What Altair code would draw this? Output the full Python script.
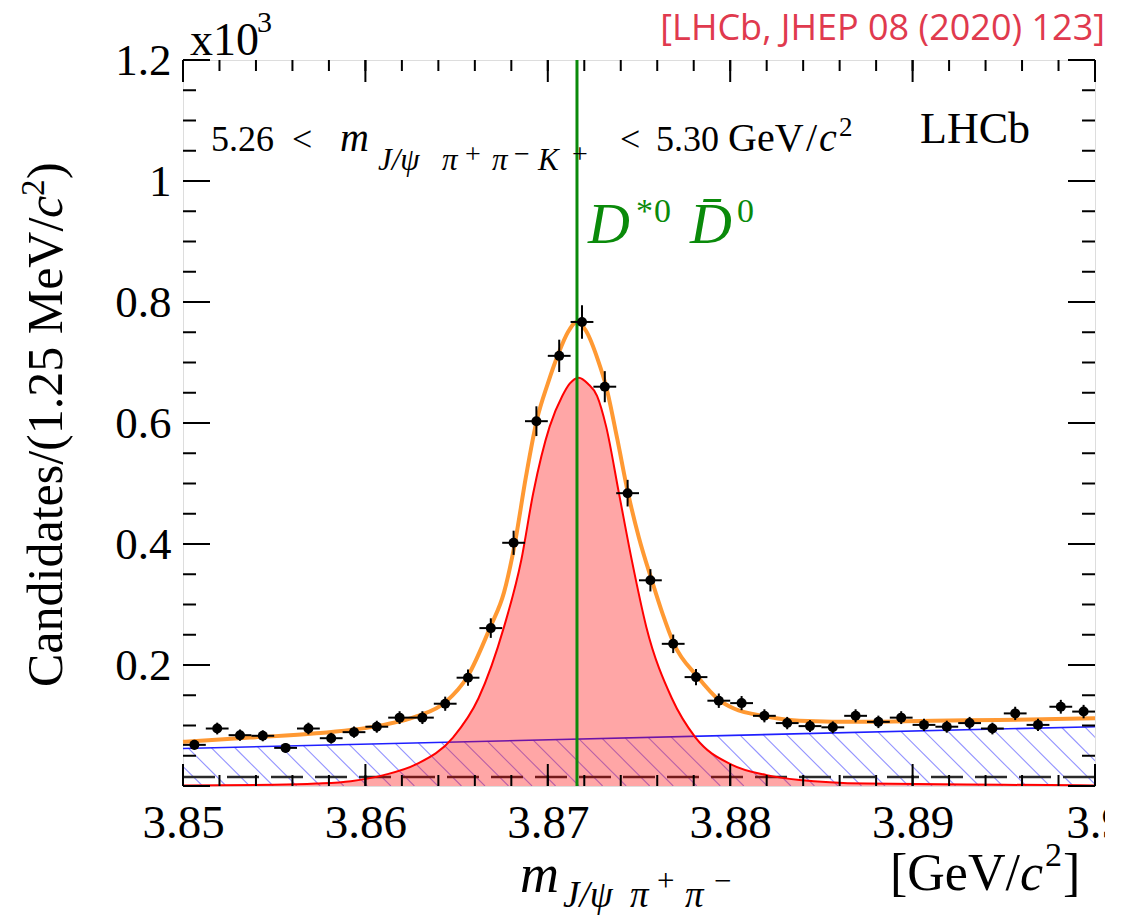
import altair as alt
import numpy as np
import pandas as pd

# ---------------- data ----------------
bin_start = 3.85
bin_width = 0.00125
counts = [0.068, 0.095, 0.084, 0.083, 0.063, 0.095, 0.079, 0.089, 0.098, 0.113,
          0.113, 0.136, 0.179, 0.261, 0.402, 0.603, 0.711, 0.767, 0.660, 0.484,
          0.340, 0.235, 0.180, 0.141, 0.137, 0.116, 0.104, 0.099, 0.097, 0.116,
          0.106, 0.113, 0.101, 0.098, 0.104, 0.095, 0.120, 0.101, 0.131, 0.123]
errors = [0.0082, 0.0097, 0.0092, 0.0091, 0.0079, 0.0097, 0.0089, 0.0094, 0.0099, 0.0106,
          0.0106, 0.0117, 0.0134, 0.0162, 0.0200, 0.0246, 0.0267, 0.0277, 0.0257, 0.0220,
          0.0184, 0.0153, 0.0134, 0.0119, 0.0117, 0.0108, 0.0102, 0.0099, 0.0098, 0.0108,
          0.0103, 0.0106, 0.0100, 0.0099, 0.0102, 0.0097, 0.0110, 0.0100, 0.0114, 0.0111]

fit_x = [3.8500, 3.8537, 3.8573, 3.8610, 3.8628, 3.8644, 3.8656, 3.86685, 3.8676, 3.8682,
         3.8688, 3.8694, 3.8700, 3.8706, 3.8711, 3.8716, 3.8721, 3.87275, 3.8732, 3.8738,
         3.8744, 3.8750, 3.8757, 3.8763, 3.8769, 3.8782, 3.8794, 3.8802, 3.8820, 3.8838,
         3.8874, 3.8911, 3.8947, 3.9000]
fit_y = [0.073, 0.080, 0.087, 0.101, 0.115, 0.139, 0.181, 0.263, 0.320, 0.402,
         0.511, 0.605, 0.665, 0.716, 0.750, 0.767, 0.752, 0.704, 0.660, 0.575,
         0.484, 0.410, 0.340, 0.284, 0.236, 0.181, 0.142, 0.128, 0.115, 0.108,
         0.106, 0.108, 0.109, 0.112]

sig_x = [3.8500, 3.8550, 3.8573, 3.8592, 3.8610, 3.8628, 3.8648, 3.8662, 3.8676, 3.86855,
         3.8692, 3.8701, 3.8708, 3.8712, 3.8717, 3.8722, 3.8727, 3.8732, 3.8739, 3.8746,
         3.8754, 3.8768, 3.8781, 3.8801, 3.8820, 3.8838, 3.8875, 3.8950, 3.9000]
sig_y = [0.001, 0.002, 0.004, 0.008, 0.018, 0.036, 0.080, 0.145, 0.263, 0.374,
         0.484, 0.594, 0.645, 0.665, 0.675, 0.665, 0.645, 0.594, 0.484, 0.374,
         0.263, 0.145, 0.080, 0.035, 0.018, 0.010, 0.004, 0.002, 0.001]

bkg_x = [3.85, 3.90]
bkg_y = [0.062, 0.098]
flat_x = [3.85, 3.90]
flat_y = [0.015, 0.015]
threshold_x = [3.8716]

x_major = [3.85, 3.86, 3.87, 3.88, 3.89, 3.90]
y_major = [0.0, 0.2, 0.4, 0.6, 0.8, 1.0, 1.2]
y_labels = [0.2, 0.4, 0.6, 0.8, 1.0, 1.2]

# ---------------- layout ----------------
W, H = 912, 726
X0, Y0 = 183, 60
SERIF = "Liberation Serif"
GREEN = "#0a8a0a"

x_minor = [round(3.85 + 0.002 * i, 3) for i in range(26)]
y_minor = [round(0.05 * i, 2) for i in range(25)]

xs = alt.Scale(domain=[3.85, 3.90], nice=False, zero=False)
ys = alt.Scale(domain=[0, 1.2], nice=False, zero=False)
xaxis = alt.Axis(values=x_major, ticks=False, domain=False, grid=False, title=None,
                 labelExpr="datum.value > 3.895 ? '3.9' : format(datum.value, '.2f')",
                 labelFont=SERIF, labelFontSize=47, labelColor="black",
                 labelPadding=14, labelFlush=False, labelOverlap=False)
yaxis = alt.Axis(values=y_labels, ticks=False, domain=False, grid=False, title=None,
                 labelExpr="datum.value == 1 ? '1' : format(datum.value, '.1f')",
                 labelFont=SERIF, labelFontSize=45, labelColor="black",
                 labelPadding=12, labelFlush=False, labelOverlap=False)


def X(f):
    return alt.X(f, type="quantitative", scale=xs, axis=xaxis)


def Y(f):
    return alt.Y(f, type="quantitative", scale=ys, axis=yaxis)


centers = [round(bin_start + bin_width * (i + 0.5), 6) for i in range(len(counts))]
df = pd.DataFrame({"m": centers, "n": counts, "e": errors})
df["lo"] = df["n"] - df["e"]
df["hi"] = df["n"] + df["e"]
df["xlo"] = df["m"] - bin_width / 2
df["xhi"] = df["m"] + bin_width / 2

# hatch pattern under the background line (style)
px_x = W / 0.05
px_y = H / 1.2
hx0 = np.arange(3.85 - 0.006, 3.90, 0.00126)
hy0 = bkg_y[0] + (bkg_y[1] - bkg_y[0]) * (hx0 - 3.85) / 0.05
hx1 = hx0 + hy0 * px_y / px_x
hatch = pd.DataFrame({"x": hx0, "y": hy0, "x2": hx1, "y2": np.zeros_like(hx0)})

layers = []
layers.append(alt.Chart(hatch).mark_rule(color="#6f6fff", strokeWidth=1.1, opacity=0.75, clip=True)
              .encode(x=X("x"), y=Y("y"), x2="x2", y2="y2"))
layers.append(alt.Chart(pd.DataFrame({"x": bkg_x, "y": bkg_y})).mark_line(color="#1f1fff", strokeWidth=1.6)
              .encode(x=X("x"), y=Y("y")))
layers.append(alt.Chart(pd.DataFrame({"x": flat_x, "y": flat_y}))
              .mark_line(color="#2a2a2a", strokeWidth=2.5, strokeDash=[32, 12])
              .encode(x=X("x"), y=Y("y")))
sig_df = pd.DataFrame({"x": sig_x, "y": sig_y})
layers.append(alt.Chart(sig_df).mark_area(color="#ff0000", opacity=0.35, interpolate="monotone")
              .encode(x=X("x"), y=Y("y")))
layers.append(alt.Chart(sig_df).mark_line(color="#ff0000", strokeWidth=2, interpolate="monotone")
              .encode(x=X("x"), y=Y("y")))
layers.append(alt.Chart(pd.DataFrame({"x": fit_x, "y": fit_y}))
              .mark_line(color="#ff9933", strokeWidth=4, interpolate="monotone")
              .encode(x=X("x"), y=Y("y")))
layers.append(alt.Chart(pd.DataFrame({"x": threshold_x})).mark_rule(color=GREEN, strokeWidth=3)
              .encode(x=X("x")))
base = alt.Chart(df)
layers.append(base.mark_rule(color="black", strokeWidth=2).encode(x=X("xlo"), x2="xhi", y=Y("n")))
layers.append(base.mark_rule(color="black", strokeWidth=2).encode(x=X("m"), y=Y("lo"), y2="hi"))
layers.append(base.mark_circle(size=100, color="black", opacity=1).encode(x=X("m"), y=Y("n")))


# inward ticks on all four sides
def yticks(vals, length):
    d = pd.DataFrame({"v": vals})
    left = alt.Chart(d).mark_rule(color="black", strokeWidth=2).encode(
        y=Y("v"), x=alt.value(0), x2=alt.value(length))
    right = alt.Chart(d).mark_rule(color="black", strokeWidth=2).encode(
        y=Y("v"), x=alt.value(W - length), x2=alt.value(W))
    return [left, right]


def xticks(vals, length):
    d = pd.DataFrame({"v": vals})
    top = alt.Chart(d).mark_rule(color="black", strokeWidth=2).encode(
        x=X("v"), y=alt.value(0), y2=alt.value(length))
    bot = alt.Chart(d).mark_rule(color="black", strokeWidth=2).encode(
        x=X("v"), y=alt.value(H - length), y2=alt.value(H))
    return [top, bot]


layers += yticks(y_major, 27) + yticks(y_minor, 13) + xticks(x_major, 22) + xticks(x_minor, 11)

# text annotations: (text, page x, page baseline y, size, italic, color, align, angle, font)
K = "black"
ann = [
    ("x10", 190, 55, 46, False, K, "left", 0, SERIF),
    ("3", 257, 32, 30, False, K, "left", 0, SERIF),
    ("5.26", 211, 151, 36, False, K, "left", 0, SERIF),
    ("<", 292, 151, 36, False, K, "left", 0, SERIF),
    ("m", 340, 151, 40, True, K, "left", 0, SERIF),
    ("J/ψ", 378, 170, 31, True, K, "left", 0, SERIF),
    ("π", 442, 170, 31, True, K, "left", 0, SERIF),
    ("+", 465, 163, 28, False, K, "left", 0, SERIF),
    ("π", 492, 170, 31, True, K, "left", 0, SERIF),
    ("−", 514, 163, 28, False, K, "left", 0, SERIF),
    ("K", 538, 170, 31, True, K, "left", 0, SERIF),
    ("+", 572, 163, 28, False, K, "left", 0, SERIF),
    ("<", 620, 151, 36, False, K, "left", 0, SERIF),
    ("5.30", 656, 151, 36, False, K, "left", 0, SERIF),
    ("GeV", 728, 151, 40, False, K, "left", 0, SERIF),
    ("/", 806, 151, 40, False, K, "left", 0, SERIF),
    ("c", 819, 151, 40, True, K, "left", 0, SERIF),
    ("2", 839, 136, 27, False, K, "left", 0, SERIF),
    ("LHCb", 920, 143, 44, False, K, "left", 0, SERIF),
    ("D", 588, 243, 58, True, GREEN, "left", 0, SERIF),
    ("*", 636, 222, 34, False, GREEN, "left", 0, SERIF),
    ("0", 654, 222, 34, False, GREEN, "left", 0, SERIF),
    ("D\u0304", 690, 243, 58, True, GREEN, "left", 0, SERIF),
    ("0", 737, 222, 34, False, GREEN, "left", 0, SERIF),
    ("m", 520, 892, 54, True, K, "left", 0, SERIF),
    ("J/ψ", 563, 907, 37, True, K, "left", 0, SERIF),
    ("π", 630, 907, 37, True, K, "left", 0, SERIF),
    ("+", 657, 891, 31, False, K, "left", 0, SERIF),
    ("π", 685, 907, 37, True, K, "left", 0, SERIF),
    ("−", 714, 891, 31, False, K, "left", 0, SERIF),
    ("[GeV/", 890, 890, 52, False, K, "left", 0, SERIF),
    ("c", 1020, 890, 52, True, K, "left", 0, SERIF),
    ("2", 1045, 866, 34, False, K, "left", 0, SERIF),
    ("]", 1063, 890, 52, False, K, "left", 0, SERIF),
    ("Candidates/(1.25 MeV/", 62, 687, 50, False, K, "left", 270, SERIF),
    ("c", 62, 218, 50, True, K, "left", 270, SERIF),
    ("2", 44, 196, 33, False, K, "left", 270, SERIF),
    (")", 62, 179, 50, False, K, "left", 270, SERIF),
    ("[LHCb, JHEP 08 (2020) 123]", 1105, 40, 36, False, "#e03a4e", "right", 0, "Open Sans"),
]

one = pd.DataFrame({"a": [0]})
for (t, px, py, sz, it, col, al, ang, fnt) in ann:
    layers.append(alt.Chart(one).mark_text(
        text=t, font=fnt, fontSize=sz, fontStyle="italic" if it else "normal",
        color=col, align=al, baseline="alphabetic", angle=ang
    ).encode(x=alt.value(px - X0), y=alt.value(py - Y0)))

chart = alt.layer(*layers).properties(
    width=W, height=H,
    padding={"left": X0, "top": Y0, "right": 1105 - X0 - W, "bottom": 919 - Y0 - H},
    autosize=alt.AutoSizeParams(type="none"),
).configure_view(stroke="black", strokeWidth=2).configure(background="white")

chart.save("out.html", embed_options={"renderer": "svg", "actions": False})
